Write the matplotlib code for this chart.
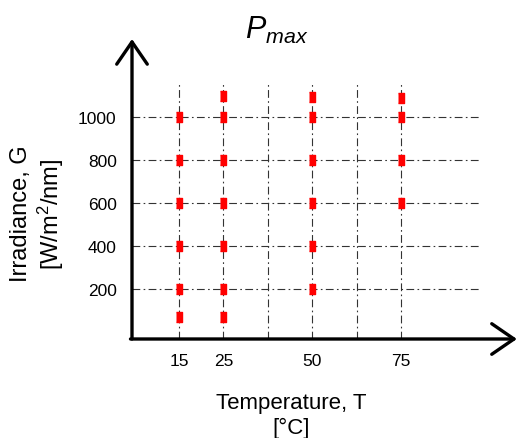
import numpy as np
import matplotlib.pyplot as plt

plt.rcParams['font.family'] = ['Liberation Sans', 'DejaVu Sans']
plt.rcParams['mathtext.fontset'] = 'custom'
plt.rcParams['mathtext.it'] = 'Liberation Sans:italic'
plt.rcParams['mathtext.rm'] = 'Liberation Sans'

# grid columns (temperature, degC); only some carry labels
grid_temps = [15, 25, 37.5, 50, 62.5, 75]
tick_temps = [15, 25, 50, 75]
irr_ticks = [200, 400, 600, 800, 1000]

# measured points per temperature
pts = {
    15: [1000, 800, 600, 400, 200, 70],
    25: [1100, 1000, 800, 600, 400, 200, 70],
    50: [1095, 1000, 800, 600, 400, 200],
    75: [1090, 1000, 800, 600],
}

W, H = 517, 439
fig = plt.figure(figsize=(W / 100, H / 100), dpi=100)
ax = fig.add_axes([132 / W, (H - 340) / H, (515 - 132) / W, (340 - 40) / H])
ax.set_xlim(-1.06, 7.57)
ax.set_ylim(-33, 1363)
for s in ax.spines.values():
    s.set_visible(False)

ls = (0, (7, 3, 1.5, 3))
ax.hlines(irr_ticks, -1.06, 6.78, colors='#333333', lw=0.8, linestyles=ls)
ax.vlines(range(len(grid_temps)), -33, 1163, colors='#333333', lw=0.8, linestyles=ls)

marker = [(-0.75, -1), (0.75, -1), (0.75, 1), (-0.75, 1)]
for t, g in pts.items():
    xi = grid_temps.index(t)
    ax.plot([xi] * len(g), g, ls='none', marker=marker, ms=6.5,
            color='#ff0000', mec='#ff0000', zorder=3)

ax.set_xticks([grid_temps.index(t) for t in tick_temps])
ax.set_xticklabels([str(t) for t in tick_temps])
ax.set_yticks(irr_ticks)
ax.set_yticklabels([str(v) for v in irr_ticks])
ax.tick_params(axis='both', length=0, labelsize=12.5)
ax.tick_params(axis='y', pad=11)
ax.tick_params(axis='x', pad=10)

arrow = dict(arrowstyle='->,head_length=1.6,head_width=1.1', lw=2.4,
             color='black', mutation_scale=10, shrinkA=0, shrinkB=0)
ax.annotate('', xy=(0, 1), xytext=(0, 0), xycoords='axes fraction',
            arrowprops=arrow, annotation_clip=False)
ax.annotate('', xy=(1.005, 0), xytext=(-0.004, 0), xycoords='axes fraction',
            arrowprops=arrow, annotation_clip=False)

fig.text(277 / W, 1 - 30 / H, r'$P_{max}$', ha='center', va='center', fontsize=22)
fig.text(291 / W, 1 - 416 / H, 'Temperature, T\n[°C]', ha='center', va='center',
         fontsize=16, linespacing=1.2)
fig.text(38 / W, 1 - 214 / H, 'Irradiance, G\n[W/m$^2$/nm]', ha='center', va='center',
         fontsize=17, rotation=90, linespacing=1.15)

fig.savefig('out.png', dpi=100)
